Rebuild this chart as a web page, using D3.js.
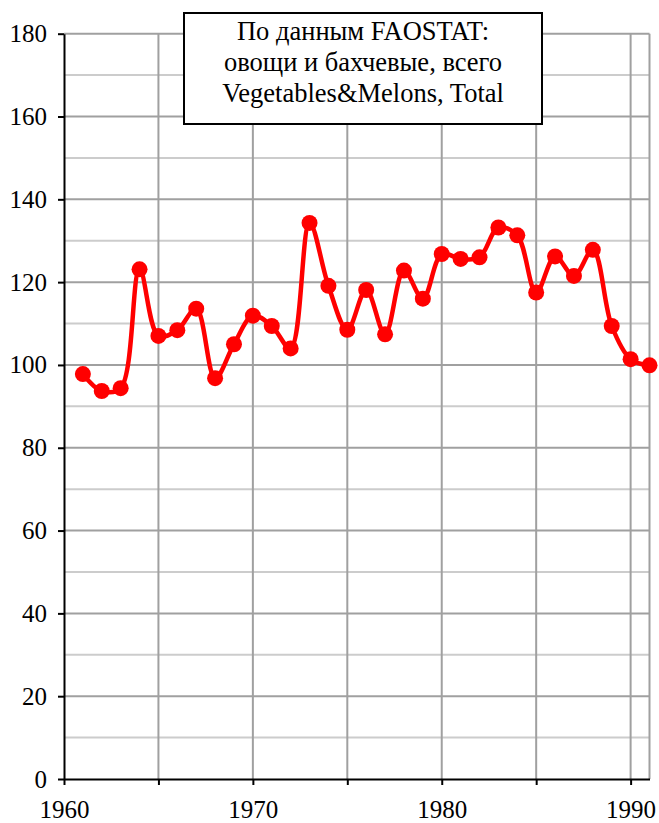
<!DOCTYPE html>
<html>
<head>
<meta charset="utf-8">
<script src="https://cdn.jsdelivr.net/npm/d3@7"></script>
<style>
  body { margin: 0; background: #fff; }
  svg text { font-family: "Liberation Serif", "Times New Roman", serif; fill: #000; }
</style>
</head>
<body>
<svg id="chart" width="659" height="823"></svg>
<script>
var years = [1961, 1962, 1963, 1964, 1965, 1966, 1967, 1968, 1969, 1970,
  1971, 1972, 1973, 1974, 1975, 1976, 1977, 1978, 1979, 1980,
  1981, 1982, 1983, 1984, 1985, 1986, 1987, 1988, 1989, 1990, 1991];
var values = [97.8, 93.7, 94.4, 123.1, 107.0, 108.4, 113.6, 96.8, 105.0, 111.9,
  109.4, 104.0, 134.3, 119.1, 108.5, 118.1, 107.4, 122.8, 116.0, 126.8,
  125.6, 126.0, 133.2, 131.3, 117.5, 126.2, 121.5, 127.8, 109.4, 101.4, 99.9];
var yTicks = [0, 20, 40, 60, 80, 100, 120, 140, 160, 180];
var yMinor = [10, 30, 50, 70, 90, 110, 130, 150, 170];
var xTicks = [1960, 1965, 1970, 1975, 1980, 1985, 1990];
var xLabels = [1960, 1970, 1980, 1990];
var legendLines = ["По данным FAOSTAT:", "овощи и бахчевые, всего", "Vegetables&Melons, Total"];

var svg = d3.select("#chart");
var x = d3.scaleLinear().domain([1960, 1991]).range([64, 649.5]);
var y = d3.scaleLinear().domain([0, 180]).range([779, 33.7]);

// minor horizontal grid
svg.append("g").selectAll("line").data(yMinor).enter().append("line")
  .attr("x1", x(1960)).attr("x2", x(1991))
  .attr("y1", d => y(d)).attr("y2", d => y(d))
  .attr("stroke", "#cccccc").attr("stroke-width", 2);

// major horizontal grid
svg.append("g").selectAll("line").data(yTicks.slice(1)).enter().append("line")
  .attr("x1", x(1960)).attr("x2", x(1991))
  .attr("y1", d => y(d)).attr("y2", d => y(d))
  .attr("stroke", "#a0a0a0").attr("stroke-width", 2);

// vertical grid (every 5 years + right border)
svg.append("g").selectAll("line").data(xTicks.slice(1).concat([1991])).enter().append("line")
  .attr("x1", d => x(d)).attr("x2", d => x(d))
  .attr("y1", y(0)).attr("y2", y(180))
  .attr("stroke", "#a0a0a0").attr("stroke-width", 2);

// y axis
var yAxis = svg.append("g").attr("transform", "translate(" + x(1960) + ",0)")
  .call(d3.axisLeft(y).tickValues(yTicks).tickSize(6).tickPadding(11).tickSizeOuter(0))
  .attr("font-family", "Liberation Serif").attr("font-size", 25);
yAxis.select(".domain").attr("stroke", "#000").attr("stroke-width", 2);
yAxis.selectAll(".tick line").attr("stroke", "#000").attr("stroke-width", 2);
yAxis.selectAll(".tick text").attr("fill", "#000");

// x axis
var xAxis = svg.append("g").attr("transform", "translate(0," + y(0) + ")")
  .call(d3.axisBottom(x).tickValues(xTicks).tickSize(6).tickSizeOuter(0)
    .tickFormat(d => xLabels.indexOf(d) >= 0 ? d : "").tickPadding(15))
  .attr("font-family", "Liberation Serif").attr("font-size", 25);
xAxis.select(".domain").attr("stroke", "#000").attr("stroke-width", 2);
xAxis.selectAll(".tick line").attr("stroke", "#000").attr("stroke-width", 2);
xAxis.selectAll(".tick text").attr("fill", "#000");

// series
var data = years.map((yr, i) => ({ year: yr, value: values[i] }));
var line = d3.line().x(d => x(d.year)).y(d => y(d.value)).curve(d3.curveCatmullRom.alpha(0.5));
svg.append("path").datum(data)
  .attr("d", line)
  .attr("fill", "none").attr("stroke", "#ff0000").attr("stroke-width", 4.5)
  .attr("stroke-linejoin", "round");
svg.append("g").selectAll("circle").data(data).enter().append("circle")
  .attr("cx", d => x(d.year)).attr("cy", d => y(d.value))
  .attr("r", 8).attr("fill", "#ff0000");

// legend / title box
var box = svg.append("g");
box.append("rect").attr("x", 184).attr("y", 13).attr("width", 358).attr("height", 111)
  .attr("fill", "#fff").attr("stroke", "#000").attr("stroke-width", 2);
box.selectAll("text").data(legendLines).enter().append("text")
  .attr("x", 363).attr("y", (d, i) => 40 + i * 31)
  .attr("text-anchor", "middle").style("font-size", "26.5px")
  .text(d => d);
</script>
</body>
</html>
